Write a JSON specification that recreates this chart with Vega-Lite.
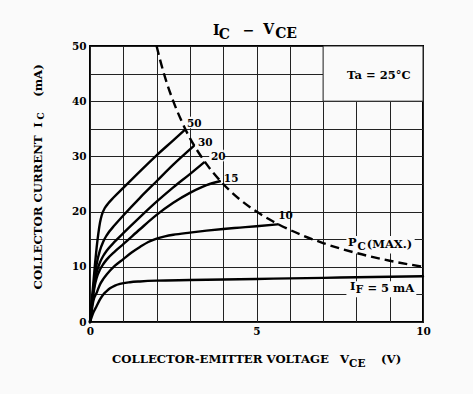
{
  "$schema": "https://vega.github.io/schema/vega-lite/v6.json",
  "width": 333,
  "height": 276,
  "autosize": {"type": "none"},
  "padding": {"left": 90, "top": 46, "right": 50, "bottom": 72},
  "background": "#fafafa",
  "config": {
    "view": {"stroke": "#000", "strokeWidth": 2, "fill": "#fafafa"},
    "font": "DejaVu Serif",
    "axis": {
      "grid": true, "gridColor": "#222", "gridWidth": 1, "gridOpacity": 1,
      "domain": false, "ticks": false, "tickSize": 0,
      "labelFont": "DejaVu Serif", "labelFontWeight": "bold", "labelFontSize": 10.5,
      "labelColor": "#000", "labelPadding": 4, "labelFlush": false, "labelOverlap": false,
      "title": null
    }
  },
  "datasets": {
    "curves": [
      {"f": 50, "v": 0, "i": 0}, {"f": 50, "v": 0.05, "i": 3.5}, {"f": 50, "v": 0.1, "i": 7}, {"f": 50, "v": 0.15, "i": 10.5},
      {"f": 50, "v": 0.2, "i": 13.5}, {"f": 50, "v": 0.25, "i": 16}, {"f": 50, "v": 0.3, "i": 18}, {"f": 50, "v": 0.35, "i": 19.3},
      {"f": 50, "v": 0.45, "i": 20.7}, {"f": 50, "v": 0.55, "i": 21.5}, {"f": 50, "v": 0.7, "i": 22.5}, {"f": 50, "v": 1, "i": 24.3},
      {"f": 50, "v": 1.5, "i": 27.3}, {"f": 50, "v": 2, "i": 30.2}, {"f": 50, "v": 2.5, "i": 32.9}, {"f": 50, "v": 2.83, "i": 34.7},
      {"f": 30, "v": 0, "i": 0}, {"f": 30, "v": 0.05, "i": 3}, {"f": 30, "v": 0.1, "i": 6}, {"f": 30, "v": 0.15, "i": 8.5},
      {"f": 30, "v": 0.2, "i": 10.5}, {"f": 30, "v": 0.3, "i": 13}, {"f": 30, "v": 0.4, "i": 14.6}, {"f": 30, "v": 0.5, "i": 15.7},
      {"f": 30, "v": 0.75, "i": 17.6}, {"f": 30, "v": 1, "i": 19.3}, {"f": 30, "v": 1.5, "i": 22.5},
      {"f": 30, "v": 2, "i": 25.5}, {"f": 30, "v": 2.5, "i": 28.5}, {"f": 30, "v": 3.12, "i": 31.9},
      {"f": 20, "v": 0, "i": 0}, {"f": 20, "v": 0.05, "i": 2.8}, {"f": 20, "v": 0.1, "i": 5.5}, {"f": 20, "v": 0.15, "i": 7.5},
      {"f": 20, "v": 0.2, "i": 9}, {"f": 20, "v": 0.3, "i": 10.8}, {"f": 20, "v": 0.4, "i": 12}, {"f": 20, "v": 0.5, "i": 12.9},
      {"f": 20, "v": 0.75, "i": 14.6}, {"f": 20, "v": 1, "i": 16.1}, {"f": 20, "v": 1.5, "i": 19},
      {"f": 20, "v": 2, "i": 21.8}, {"f": 20, "v": 2.5, "i": 24.4}, {"f": 20, "v": 3, "i": 26.8},
      {"f": 20, "v": 3.42, "i": 28.9},
      {"f": 15, "v": 0, "i": 0}, {"f": 15, "v": 0.05, "i": 2.5}, {"f": 15, "v": 0.1, "i": 5}, {"f": 15, "v": 0.15, "i": 6.8},
      {"f": 15, "v": 0.2, "i": 8}, {"f": 15, "v": 0.3, "i": 9.5}, {"f": 15, "v": 0.4, "i": 10.5}, {"f": 15, "v": 0.5, "i": 11.3},
      {"f": 15, "v": 0.75, "i": 12.8}, {"f": 15, "v": 1, "i": 14.1}, {"f": 15, "v": 1.5, "i": 16.8},
      {"f": 15, "v": 2, "i": 19.4}, {"f": 15, "v": 2.5, "i": 21.6}, {"f": 15, "v": 3, "i": 23.4},
      {"f": 15, "v": 3.5, "i": 24.8}, {"f": 15, "v": 3.9, "i": 25.5},
      {"f": 10, "v": 0, "i": 0}, {"f": 10, "v": 0.05, "i": 2}, {"f": 10, "v": 0.1, "i": 3.8}, {"f": 10, "v": 0.2, "i": 5.3},
      {"f": 10, "v": 0.3, "i": 6.8}, {"f": 10, "v": 0.4, "i": 7.8}, {"f": 10, "v": 0.5, "i": 8.6}, {"f": 10, "v": 0.75, "i": 10.2},
      {"f": 10, "v": 1, "i": 11.4}, {"f": 10, "v": 1.25, "i": 12.6}, {"f": 10, "v": 1.5, "i": 13.6}, {"f": 10, "v": 1.75, "i": 14.5},
      {"f": 10, "v": 2, "i": 15.1}, {"f": 10, "v": 2.25, "i": 15.5}, {"f": 10, "v": 2.5, "i": 15.8}, {"f": 10, "v": 3, "i": 16.2},
      {"f": 10, "v": 3.5, "i": 16.55}, {"f": 10, "v": 4, "i": 16.85}, {"f": 10, "v": 4.5, "i": 17.1}, {"f": 10, "v": 5, "i": 17.35},
      {"f": 10, "v": 5.64, "i": 17.7},
      {"f": 5, "v": 0, "i": 0}, {"f": 5, "v": 0.05, "i": 0.9}, {"f": 5, "v": 0.1, "i": 1.7}, {"f": 5, "v": 0.2, "i": 2.9},
      {"f": 5, "v": 0.3, "i": 4.1}, {"f": 5, "v": 0.4, "i": 5}, {"f": 5, "v": 0.5, "i": 5.6}, {"f": 5, "v": 0.6, "i": 6.1},
      {"f": 5, "v": 0.75, "i": 6.6}, {"f": 5, "v": 0.9, "i": 6.9}, {"f": 5, "v": 1.2, "i": 7.2}, {"f": 5, "v": 1.5, "i": 7.35},
      {"f": 5, "v": 2, "i": 7.5}, {"f": 5, "v": 3, "i": 7.6}, {"f": 5, "v": 4, "i": 7.7}, {"f": 5, "v": 5, "i": 7.8},
      {"f": 5, "v": 6, "i": 7.9}, {"f": 5, "v": 7, "i": 8}, {"f": 5, "v": 8, "i": 8.1}, {"f": 5, "v": 9, "i": 8.2},
      {"f": 5, "v": 10, "i": 8.3}
    ],
    "pc": [
      {"v": 2, "i": 50}, {"v": 2.1, "i": 47.6}, {"v": 2.25, "i": 44.4}, {"v": 2.5, "i": 40}, {"v": 2.75, "i": 36.4},
      {"v": 3, "i": 33.3}, {"v": 3.25, "i": 30.8}, {"v": 3.5, "i": 28.6}, {"v": 4, "i": 25}, {"v": 4.5, "i": 22.2},
      {"v": 5, "i": 20}, {"v": 5.5, "i": 18.2}, {"v": 6, "i": 16.7}, {"v": 7, "i": 14.3}, {"v": 8, "i": 12.5},
      {"v": 9, "i": 11.1}, {"v": 10, "i": 10}
    ],
    "taBox": [{"v": 7, "v2": 10, "i": 40, "i2": 50}],
    "labelBoxes": [
      {"v": 7.7, "v2": 9.75, "i": 12.4, "i2": 15.6},
      {"v": 7.7, "v2": 9.8, "i": 4.5, "i2": 7.4},
      {"v": 3.58, "v2": 4.02, "i": 29.1, "i2": 31.2},
      {"v": 3.2, "v2": 3.64, "i": 31.7, "i2": 33.8},
      {"v": 2.88, "v2": 3.32, "i": 35.1, "i2": 37.2}
    ],
    "title14": [
      {"v": 3.69, "i": 52.03, "t": "I"},
      {"v": 3.87, "i": 51.3, "t": "C"},
      {"v": 4.59, "i": 52.03, "t": "−"},
      {"v": 5.2, "i": 52.2, "t": "V"},
      {"v": 5.56, "i": 51.5, "t": "CE"}
    ],
    "xtitle": [
      {"v": 0.66, "i": -7.47, "t": "COLLECTOR-EMITTER VOLTAGE"},
      {"v": 7.51, "i": -7.47, "t": "V"},
      {"v": 8.74, "i": -7.47, "t": "(V)"}
    ],
    "subs": [
      {"v": 7.78, "i": -8.1, "t": "CE"},
      {"v": 8.03, "i": 12.97, "t": "C"},
      {"v": 7.98, "i": 5.3, "t": "F"}
    ],
    "notes": [
      {"v": 7.72, "i": 44.1, "t": "Ta = 25°C"},
      {"v": 7.75, "i": 13.7, "t": "P"},
      {"v": 8.31, "i": 13.33, "t": "(MAX.)"},
      {"v": 7.81, "i": 5.86, "t": "I"},
      {"v": 8.33, "i": 5.5, "t": "= 5 mA"}
    ],
    "curveNums": [
      {"v": 2.91, "i": 35.4, "t": "50"},
      {"v": 3.24, "i": 31.95, "t": "30"},
      {"v": 3.63, "i": 29.4, "t": "20"},
      {"v": 4.02, "i": 25.4, "t": "15"},
      {"v": 5.65, "i": 18.6, "t": "10"}
    ],
    "ytitle": [
      {"v": -1.44, "i": 5.91, "t": "COLLECTOR CURRENT"},
      {"v": -1.44, "i": 35.2, "t": "I"},
      {"v": -1.44, "i": 40.8, "t": "(mA)"}
    ],
    "ytitleSub": [
      {"v": -1.38, "i": 36.7, "t": "C"}
    ]
  },
  "encoding": {
    "x": {
      "field": "v", "type": "quantitative",
      "scale": {"domain": [0, 10], "nice": false, "zero": false},
      "axis": {"values": [0, 1, 2, 3, 4, 5, 6, 7, 8, 9, 10], "labelExpr": "datum.value % 5 === 0 ? datum.label : ''", "labelBaseline": "top"}
    },
    "y": {
      "field": "i", "type": "quantitative",
      "scale": {"domain": [0, 50], "nice": false, "zero": false},
      "axis": {"values": [0, 5, 10, 15, 20, 25, 30, 35, 40, 45, 50], "labelExpr": "datum.value % 10 === 0 ? datum.label : ''", "labelBaseline": "middle"}
    }
  },
  "layer": [
    {
      "data": {"name": "taBox"},
      "mark": {"type": "rect", "fill": "#fafafa", "stroke": "#222", "strokeWidth": 1},
      "encoding": {"x2": {"field": "v2"}, "y2": {"field": "i2"}}
    },
    {
      "data": {"name": "labelBoxes"},
      "mark": {"type": "rect", "fill": "#fafafa", "strokeWidth": 0},
      "encoding": {"x2": {"field": "v2"}, "y2": {"field": "i2"}}
    },
    {
      "data": {"name": "curves"},
      "mark": {"type": "line", "color": "#000", "strokeWidth": 2.4, "interpolate": "monotone", "strokeCap": "round", "strokeJoin": "round"},
      "encoding": {"detail": {"field": "f", "type": "nominal"}}
    },
    {
      "data": {"name": "pc"},
      "mark": {"type": "line", "color": "#000", "strokeWidth": 2.4, "interpolate": "monotone", "strokeDash": [9, 5]},
      "encoding": {}
    },
    {
      "data": {"name": "title14"},
      "mark": {"type": "text", "fontSize": 14, "fontWeight": "bold", "align": "left", "baseline": "alphabetic", "color": "#000"},
      "encoding": {"text": {"field": "t"}}
    },
    {
      "data": {"name": "xtitle"},
      "mark": {"type": "text", "fontSize": 11.7, "fontWeight": "bold", "align": "left", "baseline": "alphabetic", "color": "#000"},
      "encoding": {"text": {"field": "t"}}
    },
    {
      "data": {"name": "subs"},
      "mark": {"type": "text", "fontSize": 10.5, "fontWeight": "bold", "align": "left", "baseline": "alphabetic", "color": "#000"},
      "encoding": {"text": {"field": "t"}}
    },
    {
      "data": {"name": "notes"},
      "mark": {"type": "text", "fontSize": 11.5, "fontWeight": "bold", "align": "left", "baseline": "alphabetic", "color": "#000"},
      "encoding": {"text": {"field": "t"}}
    },
    {
      "data": {"name": "curveNums"},
      "mark": {"type": "text", "fontSize": 10.5, "fontWeight": "bold", "align": "left", "baseline": "alphabetic", "color": "#000"},
      "encoding": {"text": {"field": "t"}}
    },
    {
      "data": {"name": "ytitle"},
      "mark": {"type": "text", "fontSize": 11.7, "fontWeight": "bold", "align": "left", "baseline": "alphabetic", "angle": 270, "color": "#000"},
      "encoding": {"text": {"field": "t"}}
    },
    {
      "data": {"name": "ytitleSub"},
      "mark": {"type": "text", "fontSize": 9, "fontWeight": "bold", "align": "left", "baseline": "alphabetic", "angle": 270, "color": "#000"},
      "encoding": {"text": {"field": "t"}}
    }
  ]
}
